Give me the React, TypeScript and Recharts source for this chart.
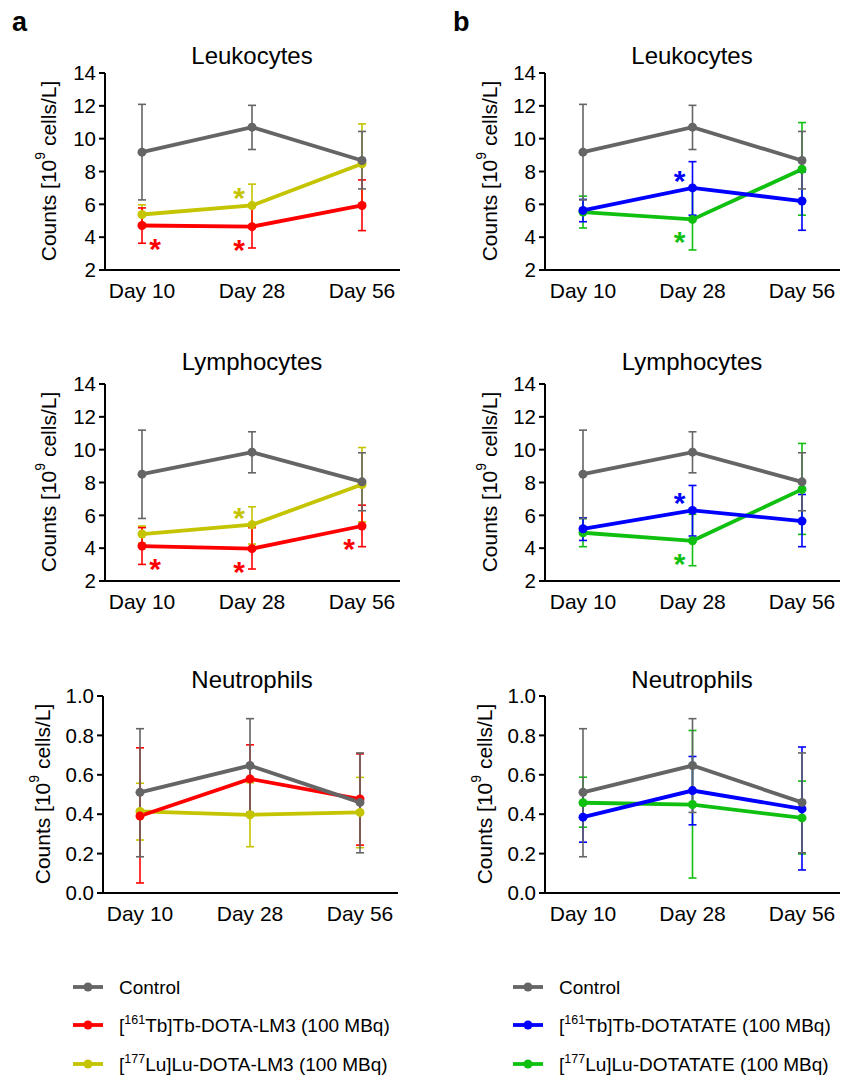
import React from "react";
import { LineChart, Line, XAxis, YAxis, ErrorBar, LabelList } from "recharts";

const days = ["Day 10", "Day 28", "Day 56"];

// Leukocytes
const ctrlLeukoMean = [9.18, 10.7, 8.67];
const ctrlLeukoUpper = [12.09, 12.03, 10.44];
const ctrlLeukoLower = [6.27, 9.34, 6.94];
const tbLm3LeukoMean = [4.71, 4.64, 5.93];
const tbLm3LeukoUpper = [5.78, 5.93, 7.49];
const tbLm3LeukoLower = [3.63, 3.34, 4.4];
const luLm3LeukoMean = [5.38, 5.93, 8.47];
const luLm3LeukoUpper = [5.97, 7.23, 10.9];
const luLm3LeukoLower = [4.8, 4.65, 6.05];
const tbTateLeukoMean = [5.63, 7.0, 6.2];
const tbTateLeukoUpper = [6.3, 8.6, 7.98];
const tbTateLeukoLower = [4.94, 5.34, 4.42];
const luTateLeukoMean = [5.53, 5.08, 8.14];
const luTateLeukoUpper = [6.5, 6.95, 10.98];
const luTateLeukoLower = [4.56, 3.22, 5.34];

// Lymphocytes
const ctrlLymphoMean = [8.51, 9.85, 8.04];
const ctrlLymphoUpper = [11.19, 11.09, 9.81];
const ctrlLymphoLower = [5.81, 8.59, 6.28];
const tbLm3LymphoMean = [4.13, 3.97, 5.35];
const tbLm3LymphoUpper = [5.25, 5.25, 6.62];
const tbLm3LymphoLower = [3.01, 2.73, 4.09];
const luLm3LymphoMean = [4.86, 5.43, 7.88];
const luLm3LymphoUpper = [5.35, 6.52, 10.13];
const luLm3LymphoLower = [4.3, 4.25, 5.6];
const tbTateLymphoMean = [5.18, 6.3, 5.65];
const tbTateLymphoUpper = [5.85, 7.82, 7.27];
const tbTateLymphoLower = [4.47, 4.74, 4.09];
const luTateLymphoMean = [4.94, 4.45, 7.58];
const luTateLymphoUpper = [5.8, 6.06, 10.38];
const luTateLymphoLower = [4.09, 2.93, 4.84];

// Neutrophils
const ctrlNeutroMean = [0.511, 0.647, 0.46];
const ctrlNeutroUpper = [0.834, 0.885, 0.711];
const ctrlNeutroLower = [0.184, 0.409, 0.204];
const tbLm3NeutroMean = [0.391, 0.579, 0.477];
const tbLm3NeutroUpper = [0.737, 0.752, 0.706];
const tbLm3NeutroLower = [0.051, 0.405, 0.243];
const luLm3NeutroMean = [0.414, 0.397, 0.409];
const luLm3NeutroUpper = [0.557, 0.56, 0.587];
const luLm3NeutroLower = [0.269, 0.235, 0.23];
const tbTateNeutroMean = [0.385, 0.52, 0.427];
const tbTateNeutroUpper = [0.51, 0.693, 0.741];
const tbTateNeutroLower = [0.258, 0.346, 0.117];
const luTateNeutroMean = [0.458, 0.449, 0.381];
const luTateNeutroUpper = [0.588, 0.825, 0.568];
const luTateNeutroLower = [0.334, 0.076, 0.198];

// significance markers
const tbLm3LeukoStar = [true, true, false];
const luLm3LeukoStar = [false, true, false];
const tbLm3LymphoStar = [true, true, true];
const luLm3LymphoStar = [false, true, false];
const tbTateLeukoStar = [false, true, false];
const luTateLeukoStar = [false, true, false];
const tbTateLymphoStar = [false, true, false];
const luTateLymphoStar = [false, true, false];
const noStar = [false, false, false];

const countTicks = [2, 4, 6, 8, 10, 12, 14];
const neutroTicks = [0, 0.2, 0.4, 0.6, 0.8, 1.0];

const legendA = ["Control", "[161Tb]Tb-DOTA-LM3 (100 MBq)", "[177Lu]Lu-DOTA-LM3 (100 MBq)"];
const legendB = ["Control", "[161Tb]Tb-DOTATATE (100 MBq)", "[177Lu]Lu-DOTATATE (100 MBq)"];

const GRAY = "#656565";
const RED = "#ff0000";
const YELLOW = "#c4c400";
const BLUE = "#0000ff";
const GREEN = "#10c010";
const FONT = "'Liberation Sans', Arial, sans-serif";

type S = { mean: number[]; upper: number[]; lower: number[]; star: boolean[] };

const mk = (mean: number[], upper: number[], lower: number[], star: boolean[] = noStar): S => ({ mean, upper, lower, star });

const buildRows = (ctrl: S, tb: S, lu: S) =>
  days.map((day, i) => ({
    day,
    ctrl: ctrl.mean[i],
    ctrlErr: [ctrl.mean[i] - ctrl.lower[i], ctrl.upper[i] - ctrl.mean[i]],
    tb: tb.mean[i],
    tbErr: [tb.mean[i] - tb.lower[i], tb.upper[i] - tb.mean[i]],
    tbStar: tb.star[i] ? "*" : "",
    lu: lu.mean[i],
    luErr: [lu.mean[i] - lu.lower[i], lu.upper[i] - lu.mean[i]],
    luStar: lu.star[i] ? "*" : "",
  }));

const starContent = (color: string, below: boolean) => (props: any) => {
  if (!props.value) return null;
  const x = props.x ?? props.viewBox?.x;
  const y = props.y ?? props.viewBox?.y;
  const dx = props.index === 0 ? 13 : -13;
  const cy = y + (below ? 16 : -14);
  return (
    <text x={x + dx} y={cy + 17} textAnchor="middle" fontSize={30} fontWeight="bold" fontFamily={FONT} fill={color}>
      *
    </text>
  );
};

type PanelProps = {
  rows: any[];
  plotLeft: number;
  plotTop: number;
  domain: [number, number];
  ticks: number[];
  decimals: number;
  tbColor: string;
  luColor: string;
  tbBelow: boolean;
  luBelow: boolean;
  padLeft: number;
};

const PLOT_W = 295;
const PLOT_H = 197;

function Panel(p: PanelProps) {
  const yw = 70;
  const mt = 20;
  const mr = 10;
  const xh = 45;
  const axisProps = { stroke: "#000", strokeWidth: 2 };
  const lineBase = { type: "linear" as const, strokeWidth: 3.8, isAnimationActive: false, activeDot: false };
  return (
    <div style={{ position: "absolute", left: p.plotLeft - yw, top: p.plotTop - mt }}>
      <LineChart
        width={PLOT_W + yw + mr}
        height={PLOT_H + mt + xh}
        data={p.rows}
        margin={{ top: mt, right: mr, left: 0, bottom: 0 }}
      >
        <XAxis
          dataKey="day"
          height={xh}
          padding={{ left: p.padLeft, right: 38 }}
          axisLine={axisProps}
          tickLine={false}
          tickSize={0}
          tickMargin={13}
          tick={{ fill: "#000", fontSize: 21, fontFamily: FONT }}
          interval={0}
        />
        <YAxis
          width={yw}
          domain={p.domain}
          ticks={p.ticks}
          interval={0}
          axisLine={axisProps}
          tickLine={axisProps}
          tickSize={6}
          tickMargin={3}
          tickFormatter={(v: number) => v.toFixed(p.decimals)}
          tick={{ fill: "#000", fontSize: 20.5, fontFamily: FONT }}
        />
        <Line dataKey="lu" stroke={p.luColor} {...lineBase} dot={{ r: 4.5, fill: p.luColor, stroke: p.luColor, strokeWidth: 0 }}>
          <ErrorBar dataKey="luErr" width={4} stroke={p.luColor} strokeWidth={1.6} direction="y" />
          <LabelList dataKey="luStar" content={starContent(p.luColor, p.luBelow)} />
        </Line>
        <Line dataKey="tb" stroke={p.tbColor} {...lineBase} dot={{ r: 4.5, fill: p.tbColor, stroke: p.tbColor, strokeWidth: 0 }}>
          <ErrorBar dataKey="tbErr" width={4} stroke={p.tbColor} strokeWidth={1.6} direction="y" />
          <LabelList dataKey="tbStar" content={starContent(p.tbColor, p.tbBelow)} />
        </Line>
        <Line dataKey="ctrl" stroke={GRAY} {...lineBase} dot={{ r: 4.5, fill: GRAY, stroke: GRAY, strokeWidth: 0 }}>
          <ErrorBar dataKey="ctrlErr" width={4} stroke={GRAY} strokeWidth={1.6} direction="y" />
        </Line>
      </LineChart>
    </div>
  );
}

const supText = (label: string) => {
  const m = label.match(/^\[(\d+)(.*)$/);
  if (!m) return label;
  return (
    <>
      {"["}
      <tspan fontSize={12.5} dy={-8}>{m[1]}</tspan>
      <tspan dy={8}>{m[2]}</tspan>
    </>
  );
};

function YLabel({ x, cy }: { x: number; cy: number }) {
  return (
    <text
      x={x}
      y={cy}
      transform={`rotate(-90 ${x} ${cy})`}
      textAnchor="middle"
      dominantBaseline="central"
      fontSize={21}
      fontFamily={FONT}
      fill="#000"
    >
      Counts [10<tspan fontSize={14} dy={-8}>9</tspan>
      <tspan dy={8}> cells/L]</tspan>
    </text>
  );
}

function Legend({ x, colors, labels }: { x: number; colors: string[]; labels: string[] }) {
  const ys = [987, 1025, 1064];
  return (
    <g>
      {labels.map((l, i) => (
        <g key={l}>
          <line x1={x} x2={x + 30} y1={ys[i]} y2={ys[i]} stroke={colors[i]} strokeWidth={3.8} />
          <circle cx={x + 15} cy={ys[i]} r={4.5} fill={colors[i]} />
          <text x={x + 46} y={ys[i] + 7} fontSize={19} fontFamily={FONT} fill="#000">
            {supText(l)}
          </text>
        </g>
      ))}
    </g>
  );
}

const leukoA = buildRows(
  mk(ctrlLeukoMean, ctrlLeukoUpper, ctrlLeukoLower),
  mk(tbLm3LeukoMean, tbLm3LeukoUpper, tbLm3LeukoLower, tbLm3LeukoStar),
  mk(luLm3LeukoMean, luLm3LeukoUpper, luLm3LeukoLower, luLm3LeukoStar)
);
const leukoB = buildRows(
  mk(ctrlLeukoMean, ctrlLeukoUpper, ctrlLeukoLower),
  mk(tbTateLeukoMean, tbTateLeukoUpper, tbTateLeukoLower, tbTateLeukoStar),
  mk(luTateLeukoMean, luTateLeukoUpper, luTateLeukoLower, luTateLeukoStar)
);
const lymphoA = buildRows(
  mk(ctrlLymphoMean, ctrlLymphoUpper, ctrlLymphoLower),
  mk(tbLm3LymphoMean, tbLm3LymphoUpper, tbLm3LymphoLower, tbLm3LymphoStar),
  mk(luLm3LymphoMean, luLm3LymphoUpper, luLm3LymphoLower, luLm3LymphoStar)
);
const lymphoB = buildRows(
  mk(ctrlLymphoMean, ctrlLymphoUpper, ctrlLymphoLower),
  mk(tbTateLymphoMean, tbTateLymphoUpper, tbTateLymphoLower, tbTateLymphoStar),
  mk(luTateLymphoMean, luTateLymphoUpper, luTateLymphoLower, luTateLymphoStar)
);
const neutroA = buildRows(
  mk(ctrlNeutroMean, ctrlNeutroUpper, ctrlNeutroLower),
  mk(tbLm3NeutroMean, tbLm3NeutroUpper, tbLm3NeutroLower),
  mk(luLm3NeutroMean, luLm3NeutroUpper, luLm3NeutroLower)
);
const neutroB = buildRows(
  mk(ctrlNeutroMean, ctrlNeutroUpper, ctrlNeutroLower),
  mk(tbTateNeutroMean, tbTateNeutroUpper, tbTateNeutroLower),
  mk(luTateNeutroMean, luTateNeutroUpper, luTateNeutroLower)
);

export default function App() {
  const count = { domain: [2, 14] as [number, number], ticks: countTicks, decimals: 0 };
  const neutro = { domain: [0, 1] as [number, number], ticks: neutroTicks, decimals: 1 };
  const aCols = { tbColor: RED, luColor: YELLOW, tbBelow: true, luBelow: false, padLeft: 37 };
  const bCols = { tbColor: BLUE, luColor: GREEN, tbBelow: false, luBelow: true, padLeft: 38 };
  const titles = [
    { t: "Leukocytes", y: 64 },
    { t: "Lymphocytes", y: 370 },
    { t: "Neutrophils", y: 688 },
  ];
  return (
    <div style={{ position: "absolute", left: 0, top: 0, width: 853, height: 1079, background: "#fff" }}>
      <Panel rows={leukoA} plotLeft={105} plotTop={73} {...count} {...aCols} />
      <Panel rows={leukoB} plotLeft={545} plotTop={73} {...count} {...bCols} />
      <Panel rows={lymphoA} plotLeft={105} plotTop={384} {...count} {...aCols} />
      <Panel rows={lymphoB} plotLeft={545} plotTop={384} {...count} {...bCols} />
      <Panel rows={neutroA} plotLeft={103} plotTop={696} {...neutro} {...aCols} />
      <Panel rows={neutroB} plotLeft={545} plotTop={696} {...neutro} {...bCols} />
      <svg width={853} height={1079} style={{ position: "absolute", left: 0, top: 0, pointerEvents: "none" }}>
        <text x={12} y={31} fontSize={27} fontWeight="bold" fontFamily={FONT}>a</text>
        <text x={453} y={31} fontSize={27} fontWeight="bold" fontFamily={FONT}>b</text>
        {titles.map((t) => (
          <g key={t.t}>
            <text x={252} y={t.y} textAnchor="middle" fontSize={24} fontFamily={FONT}>{t.t}</text>
            <text x={692} y={t.y} textAnchor="middle" fontSize={24} fontFamily={FONT}>{t.t}</text>
          </g>
        ))}
        <YLabel x={48} cy={171} />
        <YLabel x={489} cy={171} />
        <YLabel x={48} cy={482} />
        <YLabel x={489} cy={482} />
        <YLabel x={42} cy={794} />
        <YLabel x={484} cy={794} />
        <Legend x={73} colors={[GRAY, RED, YELLOW]} labels={legendA} />
        <Legend x={513} colors={[GRAY, BLUE, GREEN]} labels={legendB} />
      </svg>
    </div>
  );
}
